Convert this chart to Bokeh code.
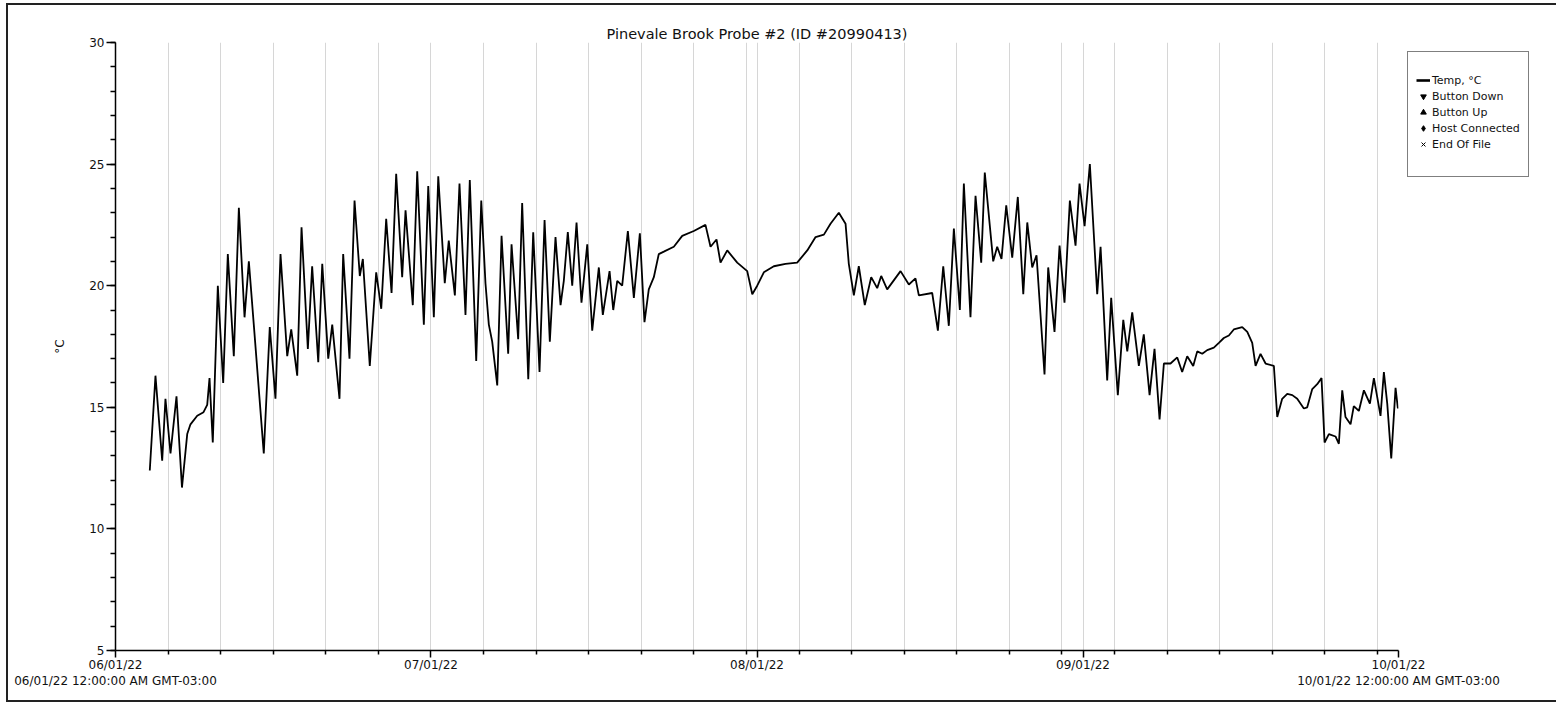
import pandas as pd
from bokeh.plotting import figure
from bokeh.models import (FixedTicker, Range1d, Legend, LegendItem, ColumnDataSource)
from bokeh.embed import file_html
from bokeh.resources import INLINE

# ---------------- data ----------------
title_text = "Pinevale Brook Probe #2 (ID #20990413)"
y_label = "°C"
start_date = "2022-06-01"
end_date = "2022-10-01"
month_ticks = ["2022-06-01", "2022-07-01", "2022-08-01", "2022-09-01", "2022-10-01"]
month_labels = ["06/01/22\n06/01/22 12:00:00 AM GMT-03:00", "07/01/22", "08/01/22",
                "09/01/22", "10/01/22\n10/01/22 12:00:00 AM GMT-03:00"]
grid_dates = ["2022-06-06", "2022-06-11", "2022-06-16", "2022-06-21", "2022-06-26",
              "2022-07-06", "2022-07-11", "2022-07-16", "2022-07-21", "2022-07-26",
              "2022-07-31", "2022-08-05", "2022-08-10", "2022-08-15", "2022-08-20",
              "2022-08-25", "2022-08-30", "2022-09-04", "2022-09-09", "2022-09-14",
              "2022-09-19", "2022-09-24", "2022-09-29"]
y_major = [5, 10, 15, 20, 25, 30]
y_minor = list(range(5, 31))

# days elapsed since 06/01/22 00:00 and temperature readings (°C)
elapsed_days = [
    3.26, 3.80, 4.44, 4.75, 5.23, 5.80, 6.32, 6.82, 7.13, 7.77, 8.37, 8.72, 8.94, 9.25,
    9.73, 10.24, 10.68, 11.25, 11.73, 12.27, 12.68, 13.15, 14.10, 14.67, 15.21, 15.69,
    16.33, 16.71, 17.28, 17.69, 18.29, 18.70, 19.28, 19.66, 20.23, 20.61, 21.30, 21.65,
    22.25, 22.73, 23.23, 23.52, 24.18, 24.79, 25.27, 25.74,
    26.25, 26.69, 27.26, 27.58, 28.27, 28.69, 29.32, 29.74, 30.27, 30.69, 31.31, 31.69,
    32.27, 32.71, 33.28, 33.69, 34.30, 34.78, 35.18, 35.50, 35.82, 36.30, 36.71, 37.34,
    37.66, 38.29, 38.67, 39.25, 39.72, 40.32, 40.80, 41.30, 41.84, 42.32, 42.63, 43.01,
    43.43, 43.84, 44.31, 44.86, 45.33, 45.96, 46.34, 46.98, 47.33, 47.71, 48.18, 48.72,
    49.29,
    49.86, 50.30, 50.71, 51.19, 51.66, 52.14, 53.09, 53.89, 54.99, 56.10, 56.58, 57.15,
    57.53, 58.17, 59.12, 60.07, 60.55, 61.02, 61.65, 62.60, 63.71, 64.82, 65.78, 66.57,
    67.36, 67.99, 68.78, 69.42, 69.73, 70.21, 70.68, 71.25, 71.86, 72.43, 72.81, 73.38,
    74.65, 75.44, 76.07, 76.39, 77.66,
    78.20, 78.71, 79.24, 79.72, 80.29, 80.67, 81.30, 81.78, 82.32, 82.66, 83.46, 83.84,
    84.25, 84.70, 85.27, 85.80, 86.32, 86.70, 87.17, 87.58, 88.34, 88.69, 89.29, 89.77,
    90.24, 90.75, 91.29, 91.67, 92.15, 92.65, 93.35, 93.67, 94.30, 94.68, 95.31, 95.83,
    96.21, 96.68, 97.31, 97.78, 98.33,
    98.80, 99.28, 99.69, 100.32, 100.96, 101.43, 101.91, 102.48, 102.86, 103.34, 103.81,
    104.44, 104.92, 105.39, 105.87, 106.34, 107.14, 107.62, 108.09, 108.41, 108.88,
    109.36, 110.15, 110.47, 110.94, 111.42, 111.90, 112.37, 113.00, 113.32, 113.80,
    114.27, 114.68, 114.97, 115.38, 116.01, 116.33, 116.65, 116.96, 117.44, 117.75,
    118.23, 118.71, 119.28, 119.66, 120.29, 120.61, 120.93, 121.31, 121.72, 121.94,
]
temp_c = [
    12.4, 16.3, 12.8, 15.35, 13.1, 15.45, 11.7, 13.9, 14.3, 14.65, 14.8, 15.1, 16.2, 13.55,
    20.0, 16.0, 21.3, 17.1, 23.2, 18.7, 21.0, 18.4, 13.1, 18.3, 15.35, 21.3,
    17.1, 18.2, 16.3, 22.4, 17.4, 20.8, 16.85, 20.9, 17.0, 18.4, 15.35, 21.3,
    17.0, 23.5, 20.4, 21.1, 16.7, 20.55, 19.05, 22.75,
    19.7, 24.6, 20.35, 23.1, 19.2, 24.7, 18.4, 24.1, 18.7, 24.5, 20.1, 21.85,
    19.6, 24.2, 18.8, 24.35, 16.9, 23.5, 20.1, 18.4, 17.7, 15.9, 22.05, 17.2,
    21.7, 17.8, 23.4, 16.15, 22.2, 16.45, 22.7, 17.7, 22.0, 19.2, 20.2, 22.2,
    20.0, 22.6, 19.3, 21.7, 18.15, 20.75, 18.8, 20.6, 19.0, 20.2, 20.0, 22.25,
    19.5,
    22.15, 18.5, 19.85, 20.35, 21.3, 21.4, 21.6, 22.05, 22.25, 22.5, 21.6, 21.9,
    20.95, 21.45, 20.95, 20.6, 19.65, 20.0, 20.55, 20.8, 20.9, 20.95, 21.45, 22.0,
    22.1, 22.55, 23.0, 22.55, 20.9, 19.6, 20.8, 19.2, 20.35, 19.9, 20.4, 19.85,
    20.6, 20.05, 20.3, 19.6, 19.7,
    18.15, 20.8, 18.35, 22.35, 19.0, 24.2, 18.7, 23.7, 20.95, 24.65, 21.0, 21.6,
    21.1, 23.3, 21.15, 23.65, 19.65, 22.6, 20.75, 21.25, 16.35, 20.75, 18.1, 21.65,
    19.3, 23.5, 21.65, 24.2, 22.45, 25.0, 19.65, 21.6, 16.1, 19.5, 15.5, 18.6,
    17.3, 18.9, 16.7, 18.0, 15.5,
    17.4, 14.5, 16.8, 16.8, 17.05, 16.45, 17.1, 16.7, 17.3, 17.2, 17.35,
    17.45, 17.65, 17.85, 17.95, 18.2, 18.3, 18.1, 17.65, 16.7, 17.2,
    16.8, 16.7, 14.6, 15.35, 15.55, 15.5, 15.35, 14.95, 15.0, 15.75,
    15.95, 16.2, 13.55, 13.9, 13.8, 13.5, 15.7, 14.6, 14.3, 15.05,
    14.85, 15.7, 15.15, 16.2, 14.65, 16.45, 15.15, 12.9, 15.8, 14.95,
]
legend_labels = ["Temp, °C", "Button Down", "Button Up", "Host Connected", "End Of File"]
legend_markers = ["inverted_triangle", "triangle", "diamond", "x"]

# ---------------- helpers ----------------
def to_ms(d):
    return pd.Timestamp(d).timestamp() * 1000.0

month_ms = [to_ms(d) for d in month_ticks]
grid_ms = [to_ms(d) for d in grid_dates]
times = pd.Timestamp(start_date) + pd.to_timedelta(elapsed_days, unit="D")
src = ColumnDataSource(dict(t=times, temp=temp_c))

FONT = "DejaVu Sans"
TXT = "#111111"

p = figure(x_axis_type="datetime", frame_width=1283, frame_height=608,
           x_range=Range1d(start=to_ms(start_date), end=to_ms(end_date)),
           y_range=Range1d(start=5, end=30),
           output_backend="svg", toolbar_location=None,
           min_border_left=107, min_border_right=150, min_border_top=37,
           min_border_bottom=50)
p.styles = {"border": "2px solid #222", "margin-left": "6px", "margin-top": "3px"}
p.outline_line_color = None
p.background_fill_color = "white"
p.border_fill_color = "white"

# title
p.title.text = title_text
p.title.align = "center"
p.title.standoff = 2
p.title.text_font = FONT
p.title.text_font_size = "14.5px"
p.title.text_font_style = "normal"
p.title.text_color = TXT

# grid
p.ygrid.visible = False
p.xgrid.ticker = FixedTicker(ticks=grid_ms + month_ms[1:])
p.xgrid.grid_line_color = "#d6d6d6"
p.xgrid.grid_line_width = 1

# x axis
xa = p.xaxis[0]
xa.ticker = FixedTicker(ticks=month_ms, minor_ticks=grid_ms)
xa.major_label_overrides = {ms: lab for ms, lab in zip(month_ms, month_labels)}
xa.major_tick_out = 7
xa.major_tick_in = 0
xa.minor_tick_out = 4
xa.minor_tick_in = 0
xa.major_label_standoff = 0
xa.axis_line_width = 1.5
xa.major_tick_line_width = 1.5
xa.minor_tick_line_width = 1.5
xa.axis_line_color = "black"
xa.major_label_text_font = FONT
xa.major_label_text_font_size = "12px"
xa.major_label_text_color = TXT

# y axis
ya = p.yaxis[0]
ya.ticker = FixedTicker(ticks=y_major, minor_ticks=y_minor)
ya.major_tick_out = 9
ya.major_tick_in = 0
ya.minor_tick_out = 5
ya.minor_tick_in = 0
ya.major_label_standoff = 2
ya.axis_line_width = 1.5
ya.major_tick_line_width = 1.5
ya.minor_tick_line_width = 1.5
ya.major_label_text_font = FONT
ya.major_label_text_font_size = "12px"
ya.major_label_text_color = TXT
ya.axis_label = y_label
ya.axis_label_text_font = FONT
ya.axis_label_text_font_size = "12px"
ya.axis_label_text_font_style = "normal"
ya.axis_label_text_color = TXT
ya.axis_label_standoff = 19

# series
line_r = p.line("t", "temp", source=src, line_color="black", line_width=1.8)

# legend (entries with no readings use a single NaN point, invisible on the plot)
nan = float("nan")
legend_line = p.line(x=[nan, nan], y=[nan, nan], line_color="black", line_width=2.6)
items = [LegendItem(label=legend_labels[0], renderers=[legend_line])]
for lab, mk in zip(legend_labels[1:], legend_markers):
    r = p.scatter(x=[nan], y=[nan], marker=mk, size=9, color="black", line_width=1)
    items.append(LegendItem(label=lab, renderers=[r]))
blank = p.scatter(x=[nan], y=[nan], size=1, alpha=0)
items.append(LegendItem(label=" ", renderers=[blank]))

legend = Legend(items=items, location="top_left", padding=8, margin=9, spacing=0,
                label_height=16, glyph_height=16, glyph_width=14, label_standoff=2,
                border_line_color="black", border_line_width=1,
                label_text_font=FONT, label_text_font_size="11px",
                label_text_color=TXT,
                title=" ", title_text_font_size="9px", title_standoff=2)
p.add_layout(legend, "right")

open("out.html", "w").write(file_html(p, INLINE))
